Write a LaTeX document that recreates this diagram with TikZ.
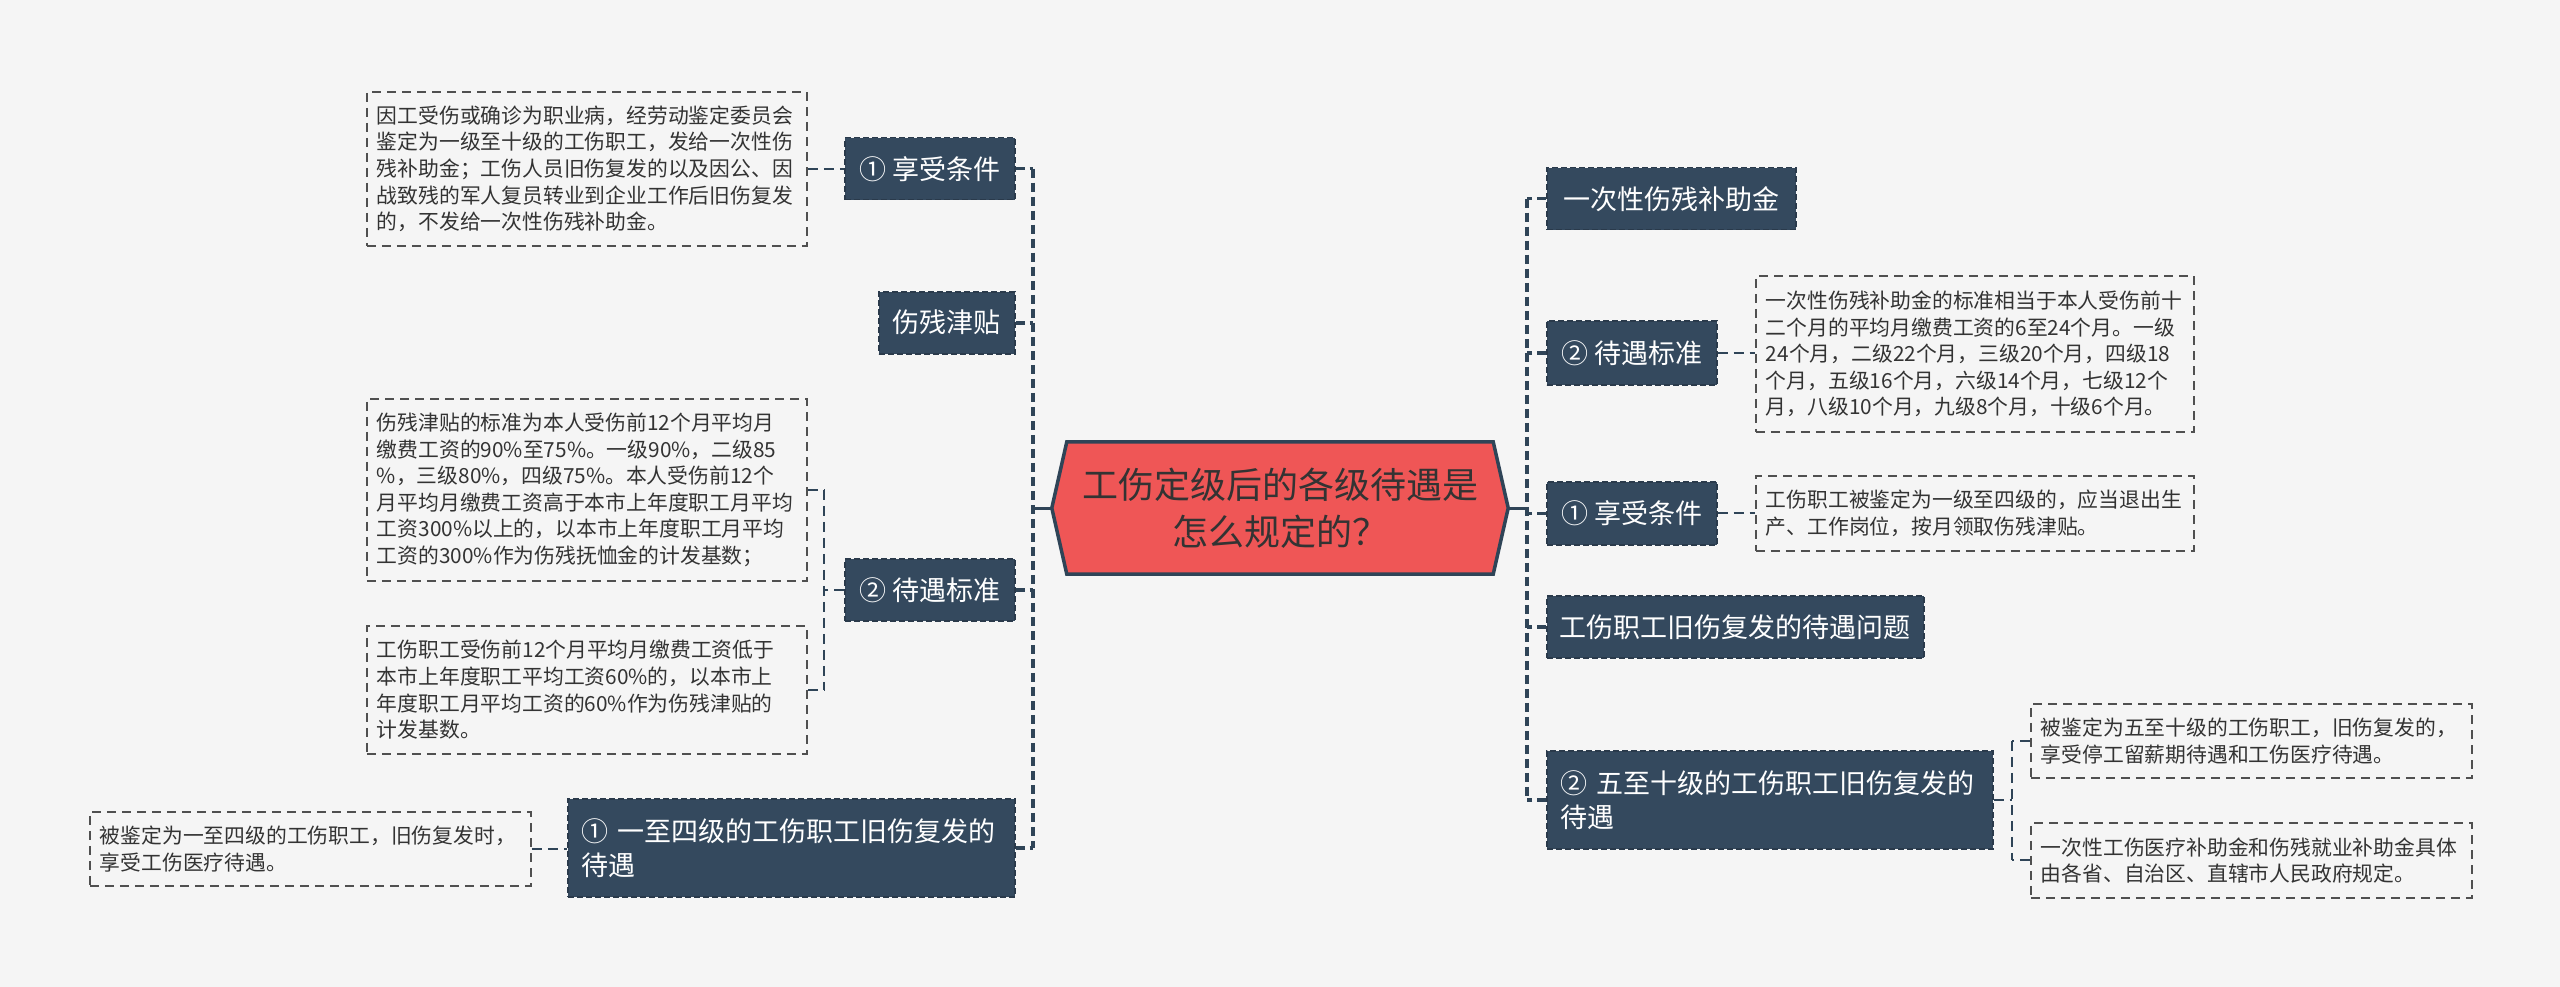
\documentclass[tikz,border=0pt]{standalone}
\usepackage{fontspec}
\setmainfont{Noto Sans CJK SC}
\usetikzlibrary{calc}
\pgfdeclarelayer{bg}
\pgfsetlayers{bg,main}
\definecolor{bgc}{HTML}{F5F5F5}
\definecolor{navy}{HTML}{34495E}
\definecolor{navyd}{HTML}{2A3A4B}
\definecolor{redc}{HTML}{EF5656}
\definecolor{linec}{HTML}{2F4457}
\definecolor{txt}{HTML}{333333}
\definecolor{boxline}{HTML}{505050}
\begin{document}
\begin{tikzpicture}[x=1pt,y=-1pt,
  topic/.style={fill=navy, draw=navyd, dash pattern=on 6pt off 3pt, line width=1.5pt,
    text=white, font=\fontsize{27}{34}\selectfont, inner sep=0pt, align=center, anchor=north west},
  topicml/.style={topic, align=left, inner xsep=14pt},
  note/.style={draw=boxline, dash pattern=on 9pt off 6pt, line width=1.8pt, text=txt,
    font=\fontsize{20.8}{26.6}\selectfont, align=left, inner xsep=10pt, inner ysep=0pt, anchor=north west},
  trunk/.style={draw=linec, line width=3.5pt, dash pattern=on 9pt off 5pt},
  link/.style={draw=linec, line width=2pt, dash pattern=on 10pt off 6pt},
  rootline/.style={draw=linec, line width=3pt},
]
\useasboundingbox (0,0) rectangle (2560,987);

% root
\node[font=\fontsize{36}{47}\selectfont, text=txt, align=center, minimum width=456, minimum height=132, inner sep=0pt] (root) at (1280,508) {工伤定级后的各级待遇是\\怎么规定的？};
\begin{pgfonlayer}{bg}
\fill[bgc] (0,0) rectangle (2560,987);
\filldraw[fill=redc, draw=linec, line width=3.5pt, line join=miter]
  (root.west) -- ($(root.north west)+(15,0)$) -- ($(root.north east)+(-15,0)$) -- (root.east)
  -- ($(root.south east)+(-15,0)$) -- ($(root.south west)+(15,0)$) -- cycle;
\end{pgfonlayer}

% left topics
\node[topic, minimum width=170, minimum height=62] (L1) at (844,137) {① 享受条件};
\node[topic, minimum width=136, minimum height=62] (L2) at (878,291) {伤残津贴};
\node[topic, minimum width=170, minimum height=62] (L3) at (844,558) {② 待遇标准};
\node[topicml, minimum width=447, minimum height=98, text width=419] (L4) at (567,798) {① 一至四级的工伤职工旧伤复发的\\待遇};

% left notes
\node[note, minimum width=440, minimum height=154, text width=420] (A) at (366,91) {因工受伤或确诊为职业病，经劳动鉴定委员会\\鉴定为一级至十级的工伤职工，发给一次性伤\\残补助金；工伤人员旧伤复发的以及因公、因\\战致残的军人复员转业到企业工作后旧伤复发\\的，不发给一次性伤残补助金。};
\node[note, minimum width=440, minimum height=182, text width=420] (B) at (366,398) {伤残津贴的标准为本人受伤前12个月平均月\\缴费工资的90\%至75\%。一级90\%，二级85\\\%，三级80\%，四级75\%。本人受伤前12个\\月平均月缴费工资高于本市上年度职工月平均\\工资300\%以上的，以本市上年度职工月平均\\工资的300\%作为伤残抚恤金的计发基数；};
\node[note, minimum width=440, minimum height=128, text width=420] (C) at (366,625) {工伤职工受伤前12个月平均月缴费工资低于\\本市上年度职工平均工资60\%的，以本市上\\年度职工月平均工资的60\%作为伤残津贴的\\计发基数。};
\node[note, minimum width=441, minimum height=74, text width=421] (D) at (89,811) {被鉴定为一至四级的工伤职工，旧伤复发时，\\享受工伤医疗待遇。};

% right topics
\node[topic, minimum width=249, minimum height=62] (R1) at (1546,167) {一次性伤残补助金};
\node[topic, minimum width=170, minimum height=64] (R2) at (1546,320) {② 待遇标准};
\node[topic, minimum width=170, minimum height=63] (R3) at (1546,481) {① 享受条件};
\node[topic, minimum width=377, minimum height=62] (R4) at (1546,595) {工伤职工旧伤复发的待遇问题};
\node[topicml, minimum width=446, minimum height=98, text width=418] (R5) at (1546,750) {② 五至十级的工伤职工旧伤复发的\\待遇};

% right notes
\node[note, minimum width=438, minimum height=156, text width=418] (E) at (1755,275) {一次性伤残补助金的标准相当于本人受伤前十\\二个月的平均月缴费工资的6至24个月。一级\\24个月，二级22个月，三级20个月，四级18\\个月，五级16个月，六级14个月，七级12个\\月，八级10个月，九级8个月，十级6个月。};
\node[note, minimum width=438, minimum height=75, text width=418] (F) at (1755,475) {工伤职工被鉴定为一级至四级的，应当退出生\\产、工作岗位，按月领取伤残津贴。};
\node[note, minimum width=441, minimum height=74, text width=421] (G) at (2030,703) {被鉴定为五至十级的工伤职工，旧伤复发的，\\享受停工留薪期待遇和工伤医疗待遇。};
\node[note, minimum width=441, minimum height=75, text width=421] (H) at (2030,822) {一次性工伤医疗补助金和伤残就业补助金具体\\由各省、自治区、直辖市人民政府规定。};

% trunks
\coordinate (LT) at (1033,508);
\coordinate (RT) at (1527,508);
\draw[rootline] (root.west) -- (LT);
\draw[rootline] (root.east) -- (RT);
\draw[trunk] (L1.east -| LT) -- (L4.east -| LT);
\foreach \n in {L1,L2,L3,L4} \draw[trunk] (\n.east) -- (\n.east -| LT);
\draw[trunk] (R1.west -| RT) -- (R5.west -| RT);
\foreach \n in {R1,R2,R3,R4,R5} \draw[trunk] (\n.west) -- (\n.west -| RT);

% left sub links
\draw[link] (A.east) -- (A.east -| L1.west);
\draw[link] (D.east) -- (D.east -| L4.west);
\coordinate (SL) at (824,589);
\draw[link] (L3.west) -- (L3.west -| SL);
\draw[link] (B.east -| SL) -- (C.east -| SL);
\draw[link] (B.east) -- (B.east -| SL);
\draw[link] (C.east) -- (C.east -| SL);

% right sub links
\draw[link] (R2.east) -- (R2.east -| E.west);
\draw[link] (R3.east) -- (R3.east -| F.west);
\coordinate (SR) at (2012,799);
\draw[link] (R5.east) -- (R5.east -| SR);
\draw[link] (G.west -| SR) -- (H.west -| SR);
\draw[link] (G.west) -- (G.west -| SR);
\draw[link] (H.west) -- (H.west -| SR);
\end{tikzpicture}
\end{document}
